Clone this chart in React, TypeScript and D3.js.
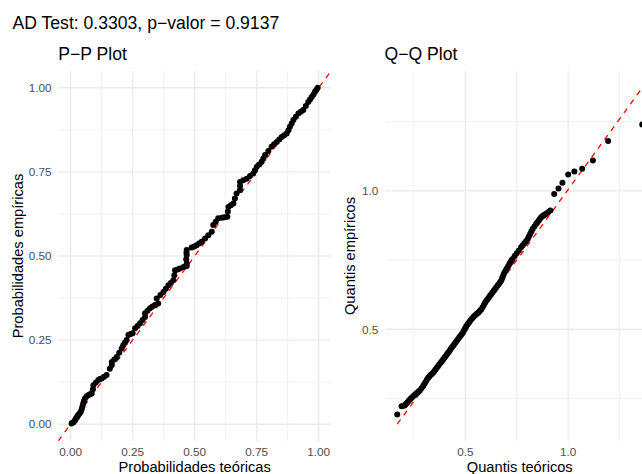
import React from "react";
import * as d3 from "d3";

const titleText = "AD Test: 0.3303, p\u2212valor = 0.9137";
const ppTitle = "P\u2212P Plot";
const qqTitle = "Q\u2212Q Plot";

// P-P plot points: [theoretical probability, empirical probability]
const ppPoints: [number, number][] = [
  [0.004, 0.002], [0.008, 0.004], [0.012, 0.006], [0.018, 0.012], [0.021, 0.016],
  [0.025, 0.02], [0.028, 0.024], [0.031, 0.027], [0.036, 0.032], [0.041, 0.037],
  [0.045, 0.045], [0.048, 0.053], [0.051, 0.062], [0.054, 0.069], [0.058, 0.076],
  [0.064, 0.082], [0.071, 0.086], [0.078, 0.089], [0.085, 0.091], [0.09, 0.104],
  [0.092, 0.116], [0.102, 0.124], [0.112, 0.131], [0.118, 0.134], [0.125, 0.136],
  [0.135, 0.141], [0.145, 0.146], [0.158, 0.165], [0.166, 0.176], [0.166, 0.185],
  [0.176, 0.192], [0.186, 0.2], [0.196, 0.212], [0.206, 0.225], [0.212, 0.235],
  [0.219, 0.242], [0.226, 0.25], [0.233, 0.265], [0.242, 0.268], [0.25, 0.27],
  [0.26, 0.285], [0.27, 0.292], [0.28, 0.3], [0.29, 0.31], [0.3, 0.319],
  [0.3, 0.33], [0.31, 0.337], [0.32, 0.345], [0.33, 0.35], [0.34, 0.354],
  [0.353, 0.359], [0.347, 0.374], [0.362, 0.384], [0.374, 0.393], [0.384, 0.403],
  [0.394, 0.413], [0.404, 0.42], [0.414, 0.428], [0.418, 0.443], [0.421, 0.458],
  [0.431, 0.46], [0.441, 0.463], [0.455, 0.467], [0.468, 0.47], [0.468, 0.478],
  [0.466, 0.49], [0.468, 0.503], [0.467, 0.51], [0.468, 0.518], [0.488, 0.525],
  [0.498, 0.528], [0.508, 0.532], [0.518, 0.537], [0.528, 0.542], [0.542, 0.552],
  [0.555, 0.562], [0.569, 0.572], [0.575, 0.592], [0.585, 0.602], [0.595, 0.612],
  [0.61, 0.614], [0.62, 0.615], [0.632, 0.617], [0.634, 0.632], [0.636, 0.646],
  [0.646, 0.651], [0.656, 0.656], [0.662, 0.671], [0.669, 0.686], [0.683, 0.696],
  [0.683, 0.708], [0.683, 0.72], [0.696, 0.725], [0.71, 0.73], [0.723, 0.738],
  [0.736, 0.745], [0.743, 0.755], [0.75, 0.765], [0.76, 0.772], [0.77, 0.78],
  [0.777, 0.79], [0.784, 0.8], [0.797, 0.812], [0.81, 0.825], [0.82, 0.832],
  [0.831, 0.839], [0.841, 0.846], [0.851, 0.854], [0.861, 0.859], [0.871, 0.864],
  [0.878, 0.874], [0.884, 0.884], [0.891, 0.894], [0.898, 0.904], [0.908, 0.914],
  [0.918, 0.924], [0.928, 0.929], [0.938, 0.934], [0.948, 0.946], [0.958, 0.958],
  [0.965, 0.965], [0.972, 0.973], [0.979, 0.98], [0.985, 0.988], [0.991, 0.994],
  [0.996, 1.0],
];

// Q-Q plot points: [theoretical quantile, empirical quantile]
const qqPoints: [number, number][] = [
  [0.169, 0.192], [0.19, 0.222], [0.2, 0.224], [0.206, 0.226], [0.212, 0.231],
  [0.218, 0.236], [0.224, 0.241], [0.23, 0.246], [0.236, 0.251], [0.243, 0.256],
  [0.249, 0.26], [0.255, 0.264], [0.261, 0.268], [0.267, 0.271], [0.273, 0.275],
  [0.279, 0.279], [0.287, 0.287], [0.295, 0.295], [0.301, 0.303], [0.307, 0.31],
  [0.313, 0.318], [0.319, 0.325], [0.325, 0.33], [0.331, 0.335], [0.337, 0.339],
  [0.343, 0.343], [0.349, 0.349], [0.355, 0.355], [0.361, 0.361], [0.367, 0.367],
  [0.373, 0.373], [0.38, 0.379], [0.386, 0.385], [0.392, 0.391], [0.398, 0.397],
  [0.404, 0.403], [0.41, 0.409], [0.416, 0.415], [0.422, 0.421], [0.428, 0.428],
  [0.434, 0.434], [0.44, 0.44], [0.446, 0.446], [0.452, 0.452], [0.458, 0.458],
  [0.464, 0.464], [0.47, 0.47], [0.476, 0.476], [0.482, 0.482], [0.488, 0.488],
  [0.492, 0.494], [0.497, 0.5], [0.501, 0.506], [0.505, 0.512], [0.511, 0.518],
  [0.517, 0.524], [0.523, 0.53], [0.529, 0.536], [0.535, 0.541], [0.541, 0.546],
  [0.547, 0.55], [0.553, 0.554], [0.559, 0.558], [0.565, 0.562], [0.571, 0.567],
  [0.577, 0.572], [0.584, 0.58], [0.59, 0.588], [0.596, 0.596], [0.602, 0.603],
  [0.608, 0.609], [0.614, 0.615], [0.62, 0.621], [0.626, 0.627], [0.632, 0.633],
  [0.638, 0.639], [0.644, 0.645], [0.65, 0.651], [0.656, 0.657], [0.662, 0.663],
  [0.668, 0.669], [0.674, 0.675], [0.678, 0.683], [0.682, 0.69], [0.686, 0.698],
  [0.69, 0.705], [0.696, 0.712], [0.702, 0.72], [0.708, 0.728], [0.714, 0.736],
  [0.718, 0.74], [0.722, 0.745], [0.726, 0.75], [0.73, 0.754], [0.74, 0.765],
  [0.75, 0.775], [0.76, 0.785], [0.771, 0.796], [0.779, 0.804], [0.787, 0.811],
  [0.795, 0.818], [0.803, 0.826], [0.809, 0.835], [0.815, 0.844], [0.821, 0.853],
  [0.827, 0.862], [0.836, 0.871], [0.844, 0.88], [0.85, 0.886], [0.856, 0.892],
  [0.862, 0.898], [0.868, 0.904], [0.874, 0.908], [0.88, 0.911], [0.886, 0.914],
  [0.892, 0.917], [0.902, 0.923], [0.913, 0.929], [0.932, 0.989], [0.953, 1.009],
  [0.972, 1.029], [1.0, 1.059], [1.03, 1.07], [1.068, 1.08], [1.12, 1.11],
  [1.194, 1.18], [1.36, 1.24],
];

// Q-Q reference line: y = intercept + slope * x over the data range
const qqLineIntercept = -0.015;
const qqLineSlope = 1.02;

const ppTicks = [0, 0.25, 0.5, 0.75, 1.0];
const ppTickLabels = ["0.00", "0.25", "0.50", "0.75", "1.00"];
const ppMinor = [0.125, 0.375, 0.625, 0.875];
const qqTicks = [0.5, 1.0];
const qqTickLabels = ["0.5", "1.0"];
const qqMinor = [0.25, 0.75, 1.25];

const FONT = "'Liberation Sans', Arial, Helvetica, sans-serif";
const GRID = "#EBEBEB";
const TICK_COLOR = "#4D4D4D";

const W = 642;
const H = 474;
const TOP = 71;
const BOTTOM = 441;

function expand(ext: [number, number]): [number, number] {
  const r = ext[1] - ext[0];
  return [ext[0] - r * 0.05, ext[1] + r * 0.05];
}

export default function App() {
  // P-P panel
  const ppX = d3.scaleLinear().domain(expand([0, 1])).range([58.2, 331.1]);
  const ppY = d3.scaleLinear().domain(expand([0, 1])).range([BOTTOM, TOP]);

  // Q-Q panel
  const qxExt = d3.extent(qqPoints, (d) => d[0]) as [number, number];
  const lineY0 = qqLineIntercept + qqLineSlope * qxExt[0];
  const lineY1 = qqLineIntercept + qqLineSlope * qxExt[1];
  const qyMin = Math.min(d3.min(qqPoints, (d) => d[1]) as number, lineY0);
  const qyMax = Math.max(d3.max(qqPoints, (d) => d[1]) as number, lineY1);
  const qqX = d3.scaleLinear().domain(expand(qxExt)).range([385, 654.5]);
  const qqY = d3.scaleLinear().domain(expand([qyMin, qyMax])).range([BOTTOM, TOP]);

  const ppLine = d3.line<[number, number]>()
    .x((d) => ppX(d[0]))
    .y((d) => ppY(d[1]));
  const ppDom = ppX.domain();
  const qqLine = d3.line<[number, number]>()
    .x((d) => qqX(d[0]))
    .y((d) => qqY(d[1]));

  const panel = (
    key: string,
    x: d3.ScaleLinear<number, number>,
    y: d3.ScaleLinear<number, number>,
    majX: number[],
    minX: number[],
    majY: number[],
    minY: number[]
  ) => {
    const [x0, x1] = x.range();
    const [y0, y1] = y.range();
    return (
      <g key={key}>
        {minX.map((v) => (
          <line key={"mx" + v} x1={x(v)} x2={x(v)} y1={y0} y2={y1} stroke={GRID} strokeWidth={0.71} />
        ))}
        {minY.map((v) => (
          <line key={"my" + v} x1={x0} x2={x1} y1={y(v)} y2={y(v)} stroke={GRID} strokeWidth={0.71} />
        ))}
        {majX.map((v) => (
          <line key={"Mx" + v} x1={x(v)} x2={x(v)} y1={y0} y2={y1} stroke={GRID} strokeWidth={1.42} />
        ))}
        {majY.map((v) => (
          <line key={"My" + v} x1={x0} x2={x1} y1={y(v)} y2={y(v)} stroke={GRID} strokeWidth={1.42} />
        ))}
      </g>
    );
  };

  const R = 3.0;

  return (
    <svg
      width={W}
      height={H}
      viewBox={`0 0 ${W} ${H}`}
      style={{ position: "absolute", left: 0, top: 0, background: "#fff" }}
      fontFamily={FONT}
    >
      <rect x={0} y={0} width={W} height={H} fill="#fff" />
      <defs>
        <clipPath id="ppClip">
          <rect x={58.2} y={TOP} width={331.1 - 58.2} height={BOTTOM - TOP} />
        </clipPath>
        <clipPath id="qqClip">
          <rect x={385} y={TOP} width={654.5 - 385} height={BOTTOM - TOP} />
        </clipPath>
      </defs>

      <text x={12.5} y={29.3} fontSize={17.6} fill="#000">{titleText}</text>

      {/* P-P panel */}
      <text x={58.2} y={60} fontSize={17.6} fill="#000">{ppTitle}</text>
      {panel("ppg", ppX, ppY, ppTicks, ppMinor, ppTicks, ppMinor)}
      <g clipPath="url(#ppClip)">
        <path
          d={ppLine([[ppDom[0], ppDom[0]], [ppDom[1], ppDom[1]]]) || ""}
          stroke="#FF0000"
          strokeWidth={1.3}
          strokeDasharray="5.5,5.5"
          fill="none"
        />
        {ppPoints.map((d, i) => (
          <circle key={i} cx={ppX(d[0])} cy={ppY(d[1])} r={R} fill="#000" />
        ))}
      </g>
      {ppTicks.map((v, i) => (
        <text key={"ppyl" + i} x={51.6} y={ppY(v) + 4.2} fontSize={11.73} fill={TICK_COLOR} textAnchor="end">
          {ppTickLabels[i]}
        </text>
      ))}
      {ppTicks.map((v, i) => (
        <text key={"ppxl" + i} x={ppX(v)} y={456} fontSize={11.73} fill={TICK_COLOR} textAnchor="middle">
          {ppTickLabels[i]}
        </text>
      ))}
      <text x={(58.2 + 331.1) / 2} y={472} fontSize={14.67} fill="#000" textAnchor="middle">
        Probabilidades teóricas
      </text>
      <text
        transform={`translate(22.5, ${(TOP + BOTTOM) / 2}) rotate(-90)`}
        fontSize={14.67}
        fill="#000"
        textAnchor="middle"
      >
        Probabilidades empíricas
      </text>

      {/* Q-Q panel */}
      <text x={384.5} y={60} fontSize={17.6} fill="#000">{qqTitle}</text>
      {panel("qqg", qqX, qqY, qqTicks, qqMinor, qqTicks, qqMinor)}
      <g clipPath="url(#qqClip)">
        <path
          d={qqLine([[qxExt[0], lineY0], [qxExt[1], lineY1]]) || ""}
          stroke="#FF0000"
          strokeWidth={1.3}
          strokeDasharray="5.5,5.5"
          fill="none"
        />
        {qqPoints.map((d, i) => (
          <circle key={i} cx={qqX(d[0])} cy={qqY(d[1])} r={R} fill="#000" />
        ))}
      </g>
      {qqTicks.map((v, i) => (
        <text key={"qqyl" + i} x={378.4} y={qqY(v) + 4.2} fontSize={11.73} fill={TICK_COLOR} textAnchor="end">
          {qqTickLabels[i]}
        </text>
      ))}
      {qqTicks.map((v, i) => (
        <text key={"qqxl" + i} x={qqX(v)} y={456} fontSize={11.73} fill={TICK_COLOR} textAnchor="middle">
          {qqTickLabels[i]}
        </text>
      ))}
      <text x={(385 + 654.5) / 2} y={472} fontSize={14.67} fill="#000" textAnchor="middle">
        Quantis teóricos
      </text>
      <text
        transform={`translate(355, ${(TOP + BOTTOM) / 2}) rotate(-90)`}
        fontSize={14.67}
        fill="#000"
        textAnchor="middle"
      >
        Quantis empíricos
      </text>
    </svg>
  );
}
